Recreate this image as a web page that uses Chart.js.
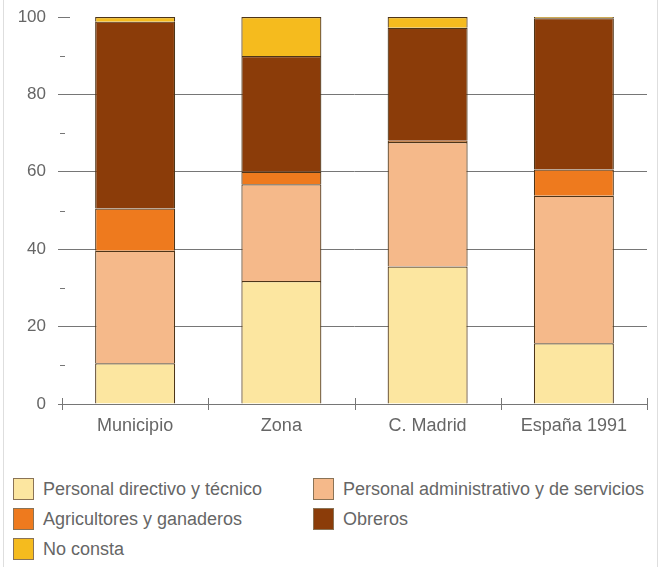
<!DOCTYPE html>
<html>
<head>
<meta charset="utf-8">
<script src="https://cdn.jsdelivr.net/npm/chart.js@4"></script>
<style>
  body { margin: 0; background: #fff; }
  #wrap { position: relative; width: 661px; height: 567px; overflow: hidden; background: #fff; }
  #frame { position: absolute; left: 3px; top: 0; width: 655px; height: 567px;
           border-left: 1px solid #dedede; border-right: 1px solid #dedede; box-sizing: border-box; }
  canvas { position: absolute; left: 0; top: 0; }
  .item { position: absolute; height: 24px; display: flex; align-items: center;
          font-family: 'Liberation Sans', Arial, sans-serif; font-size: 18px; color: #666; white-space: nowrap; }
  .box { width: 21px; height: 22px; box-sizing: border-box; border: 1px solid #8a7356; margin-right: 9px; }
</style>
</head>
<body>
<div id="wrap">
  <div id="frame"></div>
  <canvas id="chart" width="661" height="450"></canvas>
  <div id="legend"></div>
</div>
<script>
// Categories and series (percent of workers by occupation)
const categories = ['Municipio', 'Zona', 'C. Madrid', 'España 1991'];

const directivo      = [10.5, 31.8, 35.5, 15.7];
const administrativo = [29.1, 25.0, 32.2, 38.1];
const agricultores   = [10.9, 3.2, 0.3, 6.8];
const obreros        = [48.3, 29.9, 29.2, 39.1];
const noConsta       = [1.2, 10.1, 2.8, 0.3];

const seriesNames = [
    'Personal directivo y técnico',
    'Personal administrativo y de servicios',
    'Agricultores y ganaderos',
    'Obreros',
    'No consta'
];
const seriesColors = ['#FCE6A0', '#F5B98A', '#EE7A1E', '#8B3C09', '#F5BB1E'];

const yTicks = [0, 20, 40, 60, 80, 100];

const font = "'Liberation Sans', Arial, sans-serif";
const axisGray = '#767676';

// short tick dashes on the y axis and crossing ticks on the x axis
const axisMarks = {
    id: 'axisMarks',
    afterDatasetsDraw(chart) {
        const c = chart.ctx, x = chart.scales.x, y = chart.scales.y;
        const left = chart.chartArea.left, bottom = chart.chartArea.bottom;
        c.save();
        c.strokeStyle = axisGray;
        c.lineWidth = 1;
        [10, 30, 50, 70, 90].forEach(v => {
            const py = Math.round(y.getPixelForValue(v)) + 0.5;
            c.beginPath(); c.moveTo(left - 2, py); c.lineTo(left + 3, py); c.stroke();
        });
        const p100 = Math.round(y.getPixelForValue(100)) + 0.5;
        c.beginPath(); c.moveTo(left - 4, p100); c.lineTo(left + 8, p100); c.stroke();
        const w = x.getPixelForValue(1) - x.getPixelForValue(0);
        for (let i = 0; i <= categories.length; i++) {
            const px = Math.round(x.getPixelForValue(0) - w / 2 + i * w) + 0.5;
            c.beginPath(); c.moveTo(px, bottom - 6); c.lineTo(px, bottom + 6); c.stroke();
        }
        c.restore();
    }
};

const ctx = document.getElementById('chart').getContext('2d');
new Chart(ctx, {
    type: 'bar',
    data: {
        labels: categories,
        datasets: [directivo, administrativo, agricultores, obreros, noConsta].map((d, i) => ({
            label: seriesNames[i],
            data: d,
            backgroundColor: seriesColors[i],
            borderColor: '#4e3518',
            borderWidth: 1.2,
            categoryPercentage: 1,
            barPercentage: 0.547
        }))
    },
    options: {
        responsive: false,
        animation: false,
        layout: { padding: { left: 0, right: 14, top: 17, bottom: 0 } },
        plugins: { legend: { display: false }, tooltip: { enabled: false } },
        scales: {
            x: {
                stacked: true,
                afterFit: s => { s.height = 46; },
                grid: { drawOnChartArea: false, drawTicks: false },
                border: { display: true, color: axisGray },
                ticks: { padding: 11, color: '#666', font: { family: font, size: 18 } }
            },
            y: {
                stacked: true,
                min: 0,
                max: 100,
                afterFit: s => { s.width = 62; s.paddingTop = 0; s.paddingBottom = 0; },
                afterBuildTicks: s => { s.ticks = yTicks.map(v => ({ value: v })); },
                border: { display: false },
                grid: {
                    color: c => (c.tick && c.tick.value < 100) ? axisGray : 'rgba(0,0,0,0)',
                    tickColor: c => (c.tick && c.tick.value < 100) ? axisGray : 'rgba(0,0,0,0)',
                    tickLength: 4
                },
                ticks: { padding: 12, color: '#666', font: { family: font, size: 17 } }
            }
        }
    },
    plugins: [axisMarks]
});

// legend in two columns
const legendPos = [[13, 478], [313, 478], [13, 508], [313, 508], [13, 538]];
const legend = document.getElementById('legend');
seriesNames.forEach((name, i) => {
    const item = document.createElement('div');
    item.className = 'item';
    item.style.left = legendPos[i][0] + 'px';
    item.style.top = (legendPos[i][1] - 1) + 'px';
    const box = document.createElement('span');
    box.className = 'box';
    box.style.background = seriesColors[i];
    item.appendChild(box);
    item.appendChild(document.createTextNode(name));
    legend.appendChild(item);
});
</script>
</body>
</html>
